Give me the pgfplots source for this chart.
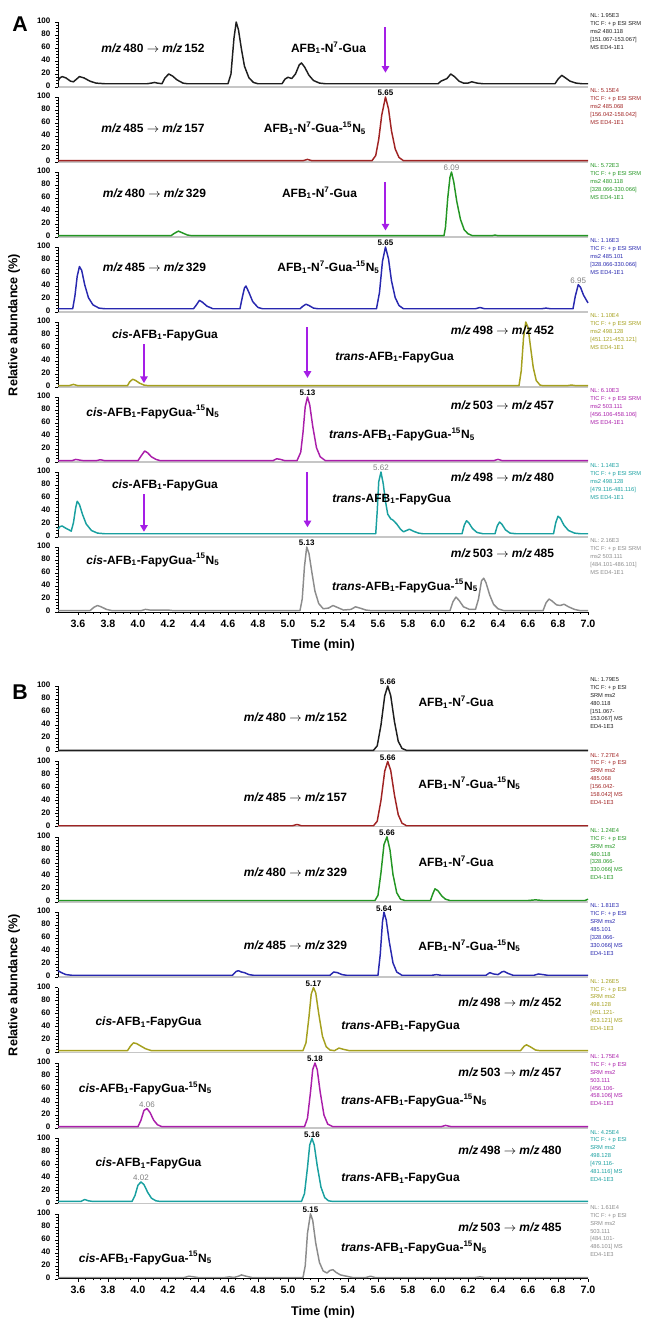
\documentclass[border=0pt]{standalone}
\usepackage{fontspec}
\setmainfont{Liberation Sans}
\usepackage{pgfplots}
\pgfplotsset{compat=1.18}
\usetikzlibrary{arrows.meta}

\definecolor{cblack}{RGB}{30,30,30}
\definecolor{cred}{RGB}{160,35,35}
\definecolor{cgreen}{RGB}{35,150,35}
\definecolor{cblue}{RGB}{40,40,175}
\definecolor{colive}{RGB}{165,160,30}
\definecolor{cmag}{RGB}{170,30,170}
\definecolor{cteal}{RGB}{25,160,160}
\definecolor{cgray}{RGB}{140,140,140}
\definecolor{arrc}{RGB}{165,30,230}

\newcommand\mz[2]{\textit{m/z}\,#1 $\rightarrow$ \textit{m/z}\,#2}
\newcommand\gua{AFB\textsubscript{1}-N\textsuperscript{7}-Gua}
\newcommand\guaN{\gua-\textsuperscript{15}N\textsubscript{5}}
\newcommand\fapy{AFB\textsubscript{1}-FapyGua}
\newcommand\fapyN{\fapy-\textsuperscript{15}N\textsubscript{5}}

\tikzset{
  lab/.style={font=\bfseries\fontsize{9}{10}\selectfont, inner sep=0pt},
  pk/.style={anchor=south, font=\bfseries\fontsize{6}{6}\selectfont, inner sep=0.6pt},
  pkg/.style={anchor=south, font=\fontsize{6}{6}\selectfont, text=gray, inner sep=0.6pt},
  info/.style={anchor=north west, align=left, inner sep=0pt, xshift=1.5pt, yshift=6.5pt,
    font=\fontsize{4.3}{5.9}\selectfont, text=#1},
  arr/.style={draw=arrc, line width=1.5pt, -{Triangle[width=5.5pt,length=5pt]}},
}

\pgfplotsset{
  chrom/.style={
    scale only axis, width=397.5pt, height=48.75pt,
    xmin=3.467, xmax=7.0, ymin=0, ymax=100,
    axis x line=bottom, axis y line=left, axis line style={-},
    x axis line style={draw=gray!45, line width=1.3pt},
    y axis line style={draw=black, line width=0.5pt},
    xtick=\empty,
    ytick={0,20,40,60,80,100}, minor y tick num=3,
    tick align=outside, major tick length=2.2pt, minor tick length=1.2pt,
    tick style={black, line width=0.4pt},
    yticklabel style={font=\bfseries\fontsize{6}{6}\selectfont},
    /pgf/number format/assume math mode=true,
    typeset ticklabels with strut,
    clip=false, anchor=south west,
  },
  chromlast/.style={chrom,
    x axis line style={draw=black, line width=0.5pt},
    xtick={3.6,3.8,4.0,4.2,4.4,4.6,4.8,5.0,5.2,5.4,5.6,5.8,6.0,6.2,6.4,6.6,6.8,7.0},
    minor x tick num=3,
    xticklabel style={font=\bfseries\fontsize{8}{8}\selectfont,
      /pgf/number format/fixed, /pgf/number format/fixed zerofill,
      /pgf/number format/precision=1},
    xlabel={Time (min)}, xlabel style={font=\bfseries\fontsize{9.5}{10}\selectfont},
  },
  trace/.style={line width=1.1pt, line join=round, no markers},
}

\begin{document}
\begin{tikzpicture}
\useasboundingbox (0,0) rectangle (487.5pt,-990.75pt);

% ---------------- panel A ----------------
\node[font=\bfseries\fontsize{16}{16}\selectfont] at (15pt,-18pt) {A};
\node[rotate=90, font=\bfseries\fontsize{9.5}{10}\selectfont] at (10.5pt,-243.75pt) {Relative abundance (\%)};

\begin{axis}[chrom, at={(43.5pt,-65.25pt)}]
\addplot[trace, cblack] coordinates {(3.467,9) (3.48,14) (3.495,16) (3.52,14) (3.55,9) (3.57,8) (3.59,12) (3.61,16) (3.64,14) (3.68,9) (3.72,6) (3.78,5) (4.06,5) (4.09,6) (4.11,7) (4.13,6) (4.16,5) (4.18,14) (4.205,20) (4.23,17) (4.26,11) (4.3,6) (4.33,5) (4.6,5) (4.62,20) (4.64,75) (4.655,100) (4.67,88) (4.69,58) (4.71,32) (4.74,14) (4.77,7) (4.8,5) (4.96,5) (4.98,12) (5.0,15) (5.025,13) (5.05,20) (5.075,34) (5.09,37) (5.11,31) (5.14,18) (5.17,10) (5.21,6) (5.25,5) (6.0,5) (6.02,9) (6.04,11) (6.06,13) (6.085,20) (6.11,16) (6.14,9) (6.17,6) (6.2,6) (6.225,8) (6.26,6) (6.3,5) (6.78,5) (6.8,12) (6.825,18) (6.85,14) (6.88,9) (6.92,6) (6.96,5) (7.0,5)};
\node[lab] at (axis cs:4.10,60) {\mz{480}{152}};
\node[lab] at (axis cs:5.27,60) {\gua};
\draw[arr] (axis cs:5.65,92) -- (axis cs:5.65,22);
\node[info=cblack] at (rel axis cs:1,1) {NL: 1.95E3\\TIC F: + p ESI SRM\\ms2 480.118\\{}[151.067-153.067]\\MS ED4-1E1};
\end{axis}

\begin{axis}[chrom, at={(43.5pt,-121.5pt)}]
\addplot[trace, cred] coordinates {(3.467,2) (5.1,2) (5.13,4) (5.16,2) (5.56,2) (5.585,10) (5.605,35) (5.625,72) (5.65,100) (5.67,82) (5.69,48) (5.715,20) (5.74,7) (5.77,2) (7.0,2)};
\node[lab] at (axis cs:4.10,52) {\mz{485}{157}};
\node[lab] at (axis cs:5.18,52) {\guaN};
\node[pk] at (axis cs:5.65,100) {5.65};
\node[info=cred] at (rel axis cs:1,1) {NL: 5.15E4\\TIC F: + p ESI SRM\\ms2 485.068\\{}[156.042-158.042]\\MS ED4-1E1};
\end{axis}

\begin{axis}[chrom, at={(43.5pt,-177.75pt)}]
\addplot[trace, cgreen] coordinates {(3.467,2) (4.22,2) (4.245,6) (4.27,9) (4.3,6) (4.33,3) (4.36,2) (6.04,2) (6.05,15) (6.065,60) (6.08,92) (6.09,100) (6.105,85) (6.125,55) (6.15,27) (6.175,11) (6.2,5) (6.23,2) (6.36,2) (6.38,3) (6.4,2) (7.0,2)};
\node[lab] at (axis cs:4.11,68) {\mz{480}{329}};
\node[lab] at (axis cs:5.21,68) {\gua};
\draw[arr] (axis cs:5.65,85) -- (axis cs:5.65,10);
\node[pkg] at (axis cs:6.09,100) {6.09};
\node[info=cgreen] at (rel axis cs:1,1) {NL: 5.72E3\\TIC F: + p ESI SRM\\ms2 480.118\\{}[328.066-330.066]\\MS ED4-1E1};
\end{axis}

\begin{axis}[chrom, at={(43.5pt,-234pt)}]
\addplot[trace, cblue] coordinates {(3.467,5) (3.565,5) (3.58,25) (3.595,55) (3.61,70) (3.625,64) (3.645,42) (3.67,22) (3.7,11) (3.74,6) (3.78,5) (4.37,5) (4.39,11) (4.41,18) (4.43,15) (4.46,9) (4.5,5) (4.68,5) (4.695,22) (4.71,37) (4.72,40) (4.74,30) (4.765,16) (4.8,7) (4.83,5) (5.08,5) (5.1,9) (5.12,12) (5.14,10) (5.17,6) (5.2,5) (5.59,5) (5.61,30) (5.63,78) (5.65,100) (5.67,82) (5.69,48) (5.715,22) (5.74,10) (5.77,5) (6.25,5) (6.28,7) (6.31,5) (6.69,5) (6.72,6) (6.75,5) (6.9,5) (6.915,24) (6.935,42) (6.95,38) (6.97,26) (7.0,14)};
\node[lab] at (axis cs:4.11,69) {\mz{485}{329}};
\node[lab] at (axis cs:5.27,69) {\guaN};
\node[pk] at (axis cs:5.65,100) {5.65};
\node[pkg] at (axis cs:6.935,42) {6.95};
\node[info=cblue] at (rel axis cs:1,1) {NL: 1.16E3\\TIC F: + p ESI SRM\\ms2 485.101\\{}[328.066-330.066]\\MS ED4-1E1};
\end{axis}

\begin{axis}[chrom, at={(43.5pt,-290.25pt)}]
\addplot[trace, colive] coordinates {(3.467,2) (3.54,2) (3.57,4) (3.6,2) (3.93,2) (3.945,8) (3.965,12) (3.985,10) (4.01,6) (4.04,3) (4.07,2) (6.54,2) (6.555,25) (6.57,75) (6.585,100) (6.6,92) (6.615,65) (6.635,30) (6.655,10) (6.68,3) (6.7,2) (6.86,2) (6.89,3) (6.92,2) (7.0,2)};
\node[lab] at (axis cs:4.18,80) {\textit{cis}-\fapy};
\node[lab] at (axis cs:6.43,88) {\mz{498}{452}};
\node[lab] at (axis cs:5.71,46) {\textit{trans}-\fapy};
\draw[arr] (axis cs:4.04,66) -- (axis cs:4.04,6);
\draw[arr] (axis cs:5.13,92) -- (axis cs:5.13,14);
\node[info=colive] at (rel axis cs:1,1) {NL: 1.10E4\\TIC F: + p ESI SRM\\ms2 498.128\\{}[451.121-453.121]\\MS ED4-1E1};
\end{axis}

\begin{axis}[chrom, at={(43.5pt,-346.5pt)}]
\addplot[trace, cmag] coordinates {(3.467,2) (3.56,2) (3.585,4) (3.61,3) (3.64,2) (3.72,2) (3.75,3.5) (3.78,2) (4.0,2) (4.02,9) (4.045,17) (4.065,14) (4.09,8) (4.12,4) (4.15,2) (4.9,2) (4.925,5) (4.95,4) (4.98,2) (5.06,2) (5.085,15) (5.1,45) (5.115,85) (5.13,100) (5.145,88) (5.165,55) (5.19,22) (5.215,8) (5.25,2) (6.37,2) (6.4,4) (6.43,2) (7.0,2)};
\node[lab] at (axis cs:4.10,77) {\textit{cis}-\fapyN};
\node[lab] at (axis cs:6.43,88) {\mz{503}{457}};
\node[lab] at (axis cs:5.76,42) {\textit{trans}-\fapyN};
\node[pk] at (axis cs:5.13,100) {5.13};
\node[info=cmag] at (rel axis cs:1,1) {NL: 6.10E3\\TIC F: + p ESI SRM\\ms2 503.111\\{}[456.106-458.106]\\MS ED4-1E1};
\end{axis}

\begin{axis}[chrom, at={(43.5pt,-402.75pt)}]
\addplot[trace, cteal] coordinates {(3.467,12) (3.48,16) (3.495,17) (3.515,14) (3.54,11) (3.555,9) (3.57,22) (3.585,45) (3.595,55) (3.61,50) (3.63,35) (3.655,20) (3.69,10) (3.73,6) (3.78,5) (5.585,5) (5.595,40) (5.605,85) (5.62,100) (5.635,82) (5.65,55) (5.665,35) (5.685,28) (5.7,26) (5.725,20) (5.75,12) (5.77,8) (5.79,10) (5.81,12) (5.835,9) (5.87,6) (5.9,5) (6.16,5) (6.175,18) (6.19,25) (6.205,22) (6.23,13) (6.26,7) (6.3,5) (6.38,5) (6.395,17) (6.41,23) (6.425,20) (6.45,11) (6.48,6) (6.52,5) (6.77,5) (6.785,22) (6.8,32) (6.815,29) (6.84,18) (6.87,10) (6.91,6) (6.95,5) (7.0,5)};
\node[lab] at (axis cs:4.18,80) {\textit{cis}-\fapy};
\node[lab] at (axis cs:6.43,92) {\mz{498}{480}};
\node[lab] at (axis cs:5.69,58) {\textit{trans}-\fapy};
\draw[arr] (axis cs:4.04,66) -- (axis cs:4.04,8);
\draw[arr] (axis cs:5.13,100) -- (axis cs:5.13,15);
\node[pkg] at (axis cs:5.62,100) {5.62};
\node[info=cteal] at (rel axis cs:1,1) {NL: 1.14E3\\TIC F: + p ESI SRM\\ms2 498.128\\{}[479.116-481.116]\\MS ED4-1E1};
\end{axis}

\begin{axis}[chromlast, at={(43.5pt,-459pt)}]
\addplot[trace, cgray] coordinates {(3.467,2) (3.68,2) (3.705,7) (3.73,10) (3.755,8) (3.79,4) (3.83,2) (4.02,2) (4.05,4) (4.08,3) (4.16,3) (4.2,3) (4.24,2) (5.08,2) (5.095,20) (5.11,70) (5.125,100) (5.14,90) (5.16,60) (5.18,32) (5.205,13) (5.235,5) (5.27,6) (5.3,10) (5.33,7) (5.37,3) (5.42,4) (5.45,8) (5.48,6) (5.52,3) (5.56,2) (6.08,2) (6.1,16) (6.12,23) (6.14,18) (6.17,8) (6.21,4) (6.25,4) (6.27,20) (6.29,48) (6.305,52) (6.32,45) (6.345,26) (6.37,12) (6.4,5) (6.44,2) (6.7,2) (6.72,14) (6.74,20) (6.76,17) (6.79,11) (6.815,10) (6.84,12) (6.87,8) (6.91,4) (6.95,2) (7.0,2)};
\node[lab] at (axis cs:4.10,80) {\textit{cis}-\fapyN};
\node[lab] at (axis cs:6.43,91) {\mz{503}{485}};
\node[lab] at (axis cs:5.78,40) {\textit{trans}-\fapyN};
\node[pk] at (axis cs:5.125,100) {5.13};
\node[info=cgray] at (rel axis cs:1,1) {NL: 2.16E3\\TIC F: + p ESI SRM\\ms2 503.111\\{}[484.101-486.101]\\MS ED4-1E1};
\end{axis}

% ---------------- panel B ----------------
\node[font=\bfseries\fontsize{16}{16}\selectfont] at (15pt,-519pt) {B};
\node[rotate=90, font=\bfseries\fontsize{9.5}{10}\selectfont] at (10.5pt,-738.75pt) {Relative abundance (\%)};

\begin{axis}[chrom, at={(43.5pt,-563.25pt)}]
\addplot[trace, cblack] coordinates {(3.467,1) (5.57,1) (5.595,8) (5.62,40) (5.645,85) (5.665,100) (5.685,85) (5.71,45) (5.735,15) (5.76,4) (5.79,1) (7.0,1)};
\node[lab] at (axis cs:5.05,52) {\mz{480}{152}};
\node[lab] at (axis cs:6.12,75) {\gua};
\node[pk] at (axis cs:5.665,100) {5.66};
\node[info=cblack] at (rel axis cs:1,1) {NL: 1.79E5\\TIC F: + p ESI\\SRM ms2\\480.118\\{}[151.067-\\153.067] MS\\ED4-1E3};
\end{axis}

\begin{axis}[chrom, at={(43.5pt,-619.8pt)}]
\addplot[trace, cred] coordinates {(3.467,1) (5.03,1) (5.06,3) (5.09,1) (5.57,1) (5.595,8) (5.62,40) (5.645,85) (5.665,100) (5.685,86) (5.71,48) (5.735,18) (5.76,5) (5.79,1) (7.0,1)};
\node[lab] at (axis cs:5.05,45) {\mz{485}{157}};
\node[lab] at (axis cs:6.21,66) {\guaN};
\node[pk] at (axis cs:5.665,100) {5.66};
\node[info=cred] at (rel axis cs:1,1) {NL: 7.27E4\\TIC F: + p ESI\\SRM ms2\\485.068\\{}[156.042-\\158.042] MS\\ED4-1E3};
\end{axis}

\begin{axis}[chrom, at={(43.5pt,-676.35pt)}]
\addplot[trace, cgreen] coordinates {(3.467,2) (5.58,2) (5.6,10) (5.62,45) (5.64,88) (5.66,100) (5.68,80) (5.7,42) (5.725,14) (5.75,4) (5.78,2) (5.95,2) (5.965,12) (5.98,20) (6.0,17) (6.025,9) (6.05,4) (6.08,2) (6.6,2) (6.65,3) (6.7,2) (6.98,2) (7.0,4)};
\node[lab] at (axis cs:5.05,45) {\mz{480}{329}};
\node[lab] at (axis cs:6.12,62) {\gua};
\node[pk] at (axis cs:5.66,100) {5.66};
\node[info=cgreen] at (rel axis cs:1,1) {NL: 1.24E4\\TIC F: + p ESI\\SRM ms2\\480.118\\{}[328.066-\\330.066] MS\\ED4-1E3};
\end{axis}

\begin{axis}[chrom, at={(43.5pt,-732.9pt)}]
\addplot[trace, cblue] coordinates {(3.467,10) (3.49,7) (3.52,4) (3.56,3) (4.63,3) (4.655,9) (4.67,10) (4.69,8) (4.71,7) (4.74,4) (4.77,3) (5.28,3) (5.305,8) (5.33,7) (5.36,4) (5.39,3) (5.6,3) (5.615,35) (5.63,85) (5.64,100) (5.655,88) (5.675,55) (5.7,22) (5.725,8) (5.76,3) (5.96,3) (5.99,4) (6.02,3) (6.32,3) (6.345,7) (6.37,5) (6.4,4) (6.425,8) (6.44,9) (6.465,6) (6.5,3) (6.64,3) (6.67,5) (6.7,4) (6.73,3) (7.0,3)};
\node[lab] at (axis cs:5.05,49) {\mz{485}{329}};
\node[lab] at (axis cs:6.21,48) {\guaN};
\node[pk] at (axis cs:5.64,100) {5.64};
\node[info=cblue] at (rel axis cs:1,1) {NL: 1.81E3\\TIC F: + p ESI\\SRM ms2\\485.101\\{}[328.066-\\330.066] MS\\ED4-1E3};
\end{axis}

\begin{axis}[chrom, at={(43.5pt,-789.45pt)}]
\addplot[trace, colive] coordinates {(3.467,3) (3.93,3) (3.95,10) (3.97,15) (3.99,14) (4.02,10) (4.05,6) (4.09,3) (5.1,3) (5.12,15) (5.14,55) (5.155,90) (5.17,100) (5.185,92) (5.205,60) (5.23,25) (5.255,9) (5.28,4) (5.31,3) (5.34,7) (5.37,5) (5.41,3) (6.55,3) (6.575,10) (6.59,12) (6.615,9) (6.65,4) (6.68,3) (7.0,3)};
\node[lab] at (axis cs:4.07,46) {\textit{cis}-\fapy};
\node[lab] at (axis cs:5.75,40) {\textit{trans}-\fapy};
\node[lab] at (axis cs:6.48,78) {\mz{498}{452}};
\node[pk] at (axis cs:5.17,100) {5.17};
\node[info=colive] at (rel axis cs:1,1) {NL: 1.26E5\\TIC F: + p ESI\\SRM ms2\\498.128\\{}[451.121-\\453.121] MS\\ED4-1E3};
\end{axis}

\begin{axis}[chrom, at={(43.5pt,-846pt)}]
\addplot[trace, cmag] coordinates {(3.467,2) (4.0,2) (4.02,12) (4.04,27) (4.06,30) (4.08,24) (4.105,12) (4.13,5) (4.16,2) (5.11,2) (5.13,15) (5.15,55) (5.165,90) (5.18,100) (5.195,90) (5.215,55) (5.24,20) (5.265,6) (5.3,2) (6.02,2) (6.05,4) (6.09,2) (7.0,2)};
\node[lab] at (axis cs:4.05,61) {\textit{cis}-\fapyN};
\node[lab] at (axis cs:5.84,43) {\textit{trans}-\fapyN};
\node[lab] at (axis cs:6.48,86) {\mz{503}{457}};
\node[pkg] at (axis cs:4.06,30) {4.06};
\node[pk] at (axis cs:5.18,100) {5.18};
\node[info=cmag] at (rel axis cs:1,1) {NL: 1.75E4\\TIC F: + p ESI\\SRM ms2\\503.111\\{}[456.106-\\458.106] MS\\ED4-1E3};
\end{axis}

\begin{axis}[chrom, at={(43.5pt,-902.55pt)}]
\addplot[trace, cteal] coordinates {(3.467,3) (3.62,3) (3.645,6) (3.67,4) (3.7,3) (3.96,3) (3.98,12) (4.0,28) (4.02,33) (4.04,29) (4.065,17) (4.09,8) (4.12,4) (4.15,3) (5.09,3) (5.11,15) (5.13,55) (5.145,90) (5.16,100) (5.175,90) (5.195,58) (5.22,25) (5.245,9) (5.27,4) (5.3,3) (7.0,3)};
\node[lab] at (axis cs:4.07,61) {\textit{cis}-\fapy};
\node[lab] at (axis cs:5.75,38) {\textit{trans}-\fapy};
\node[lab] at (axis cs:6.48,82) {\mz{498}{480}};
\node[pkg] at (axis cs:4.02,33) {4.02};
\node[pk] at (axis cs:5.16,100) {5.16};
\node[info=cteal] at (rel axis cs:1,1) {NL: 4.25E4\\TIC F: + p ESI\\SRM ms2\\498.128\\{}[479.116-\\481.116] MS\\ED4-1E3};
\end{axis}

\begin{axis}[chromlast, at={(43.5pt,-959.1pt)}]
\addplot[trace, cgray] coordinates {(3.467,2) (4.31,2) (4.34,4) (4.37,3) (4.4,2) (4.58,2) (4.61,3) (4.64,2) (4.67,4) (4.69,6) (4.72,4) (4.76,2) (5.1,2) (5.115,20) (5.13,70) (5.15,100) (5.165,90) (5.185,55) (5.21,25) (5.235,12) (5.26,9) (5.28,13) (5.3,14) (5.32,10) (5.35,6) (5.39,4) (5.43,2) (5.52,2) (5.55,4) (5.58,2) (6.25,2) (6.28,3) (6.31,2) (7.0,2)};
\node[lab] at (axis cs:4.05,32) {\textit{cis}-\fapyN};
\node[lab] at (axis cs:5.84,48) {\textit{trans}-\fapyN};
\node[lab] at (axis cs:6.48,80) {\mz{503}{485}};
\node[pk] at (axis cs:5.15,100) {5.15};
\node[info=cgray] at (rel axis cs:1,1) {NL: 1.61E4\\TIC F: + p ESI\\SRM ms2\\503.111\\{}[484.101-\\486.101] MS\\ED4-1E3};
\end{axis}
\end{tikzpicture}
\end{document}
